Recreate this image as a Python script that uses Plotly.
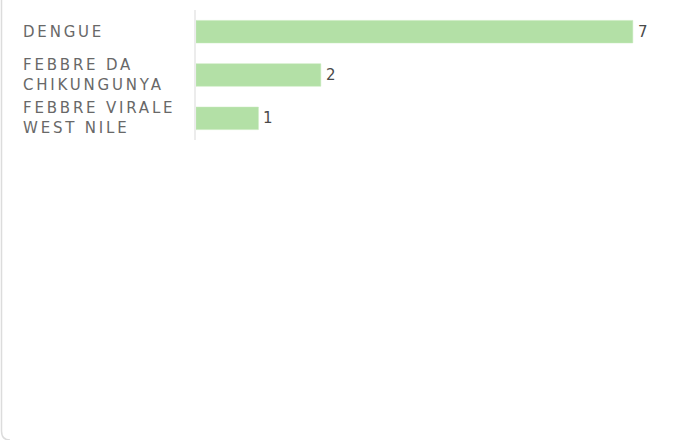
import plotly.graph_objects as go

categories = ["DENGUE", "FEBBRE DA<br>CHIKUNGUNYA", "FEBBRE VIRALE<br>WEST NILE"]
values = [7, 2, 1]

W, H = 675, 440
L, R, T, B = 196, 11, 10, 300
pw, ph = W - L - R, H - T - B

def px_x(p):
    return (p - L) / pw

def px_y(p):
    return (H - B - p) / ph

fig = go.Figure(
    go.Bar(
        x=values,
        y=categories,
        orientation="h",
        marker=dict(color="#b3e0a6", line=dict(color="#c4e8b9", width=0.5)),
        hoverinfo="skip",
    )
)

# value labels just right of each bar
for c, v in zip(categories, values):
    fig.add_annotation(
        x=v, xref="x", xanchor="left", xshift=3,
        y=c, yref="y", yanchor="middle",
        text=str(v), showarrow=False,
        font=dict(family="DejaVu Sans", size=15, color="#4a4a4a"),
    )

# category labels, left aligned
for c in categories:
    fig.add_annotation(
        x=px_x(21), xref="paper", xanchor="left", align="left",
        y=c, yref="y", yanchor="middle",
        text=c, showarrow=False,
        font=dict(family="DejaVu Sans", size=15, color="#686868"),
    )

# card border (left edge with rounded bottom corner)
x1 = px_x(1.5)
x2 = px_x(10)
fig.add_shape(
    type="path", xref="paper", yref="paper",
    path=f"M {x1},{px_y(-2)} L {x1},{px_y(431)} Q {x1},{px_y(440)} {x2},{px_y(440)}",
    line=dict(color="#dcdcdc", width=1.5),
)

fig.update_layout(
    width=W, height=H,
    margin=dict(l=L, r=R, t=T, b=B),
    paper_bgcolor="white", plot_bgcolor="white",
    bargap=0.48,
    showlegend=False,
    xaxis=dict(range=[0, 7.5], visible=False, fixedrange=True),
    yaxis=dict(
        type="category", autorange="reversed",
        showticklabels=False, showgrid=False, zeroline=False,
        showline=True, linecolor="#ececec", linewidth=2,
        fixedrange=True,
    ),
)

post = """
document.body.style.margin='0';
document.querySelectorAll('.annotation-text').forEach(function(t){
  if (!/^\\d+$/.test(t.textContent)) { t.style.letterSpacing='2.8px'; }
});
"""
fig.write_html("out.html", config={"displayModeBar": False}, post_script=post)
